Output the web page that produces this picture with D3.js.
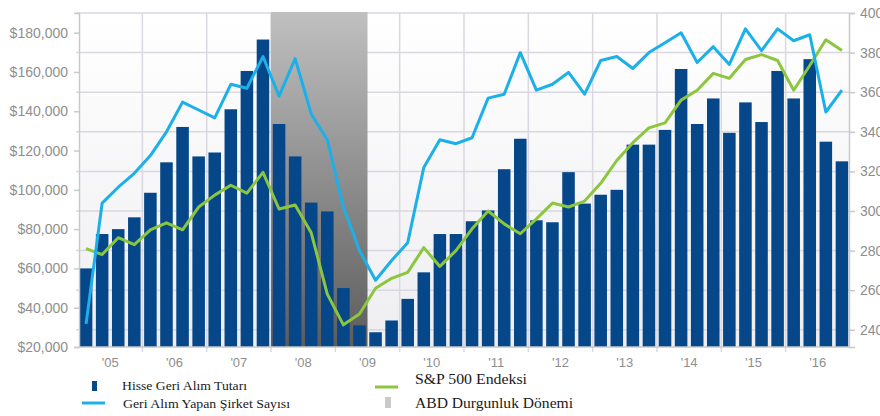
<!DOCTYPE html>
<html>
<head>
<meta charset="utf-8">
<script src="https://cdn.jsdelivr.net/npm/d3@7"></script>
<style>
  body { margin: 0; background: #fff; }
  .tick-label { font-family: "Liberation Sans", Arial, sans-serif; fill: #8e8e8e; }
  .legend-text { font-family: "Liberation Serif", "Times New Roman", serif; fill: #1a1a1a; }
</style>
</head>
<body>
<svg id="chart"></svg>
<script>
// years and quarters
const years = ['05', '06', '07', '08', '09', '10', '11', '12', '13', '14', '15', '16'];
const quarters = years.flatMap(y => ['Q1', 'Q2', 'Q3', 'Q4'].map(q => y + q));

// Hisse Geri Alım Tutarı (left axis, $)
const buybacks = [60000, 77500, 80000, 86000, 98500, 114000, 132000, 117000, 119000, 141000, 160500, 176500,
  133500, 117000, 93500, 89000, 50000, 31000, 27500, 33500, 44500, 58000, 77500, 77500,
  84000, 89500, 110500, 126000, 84500, 83500, 109000, 93000, 97500, 100000, 123000, 123000,
  130500, 161500, 133500, 146500, 129000, 144500, 134500, 160500, 146500, 166500, 124500, 114500];

// Geri Alım Yapan Şirket Sayısı (right axis)
const companies = [243, 304, 312, 319, 328, 340, 355, 351, 347, 364, 362, 378,
  358, 377, 349, 336, 302, 280, 265, 275, 284, 322, 336, 334,
  337, 357, 359, 380, 361, 364, 370, 359, 376, 378, 372, 380,
  385, 390, 375, 383, 374, 392, 381, 392, 386, 389, 350, 361];

// S&P 500 Endeksi (drawn on right axis)
const sp500 = [281, 278, 286.5, 283, 290.5, 294, 290.5, 302, 308, 313, 309, 319.5,
  301, 303, 289, 258, 242.5, 248, 261, 266, 269, 281.5, 272, 280,
  291, 300, 293.5, 288.5, 296, 304, 302, 305, 314, 325.5, 334.5, 342,
  344.5, 356, 361, 369.5, 367, 376.5, 379, 376, 361, 373.5, 386.5, 381];

// ABD Durgunluk Dönemi (first and last quarter)
const recession = ['08Q1', '09Q2'];

const leftTicks = [20000, 40000, 60000, 80000, 100000, 120000, 140000, 160000, 180000];
const rightTicks = [240, 260, 280, 300, 320, 340, 360, 380, 400];

const legendLabels = ['Hisse Geri Alım Tutarı', 'Geri Alım Yapan Şirket Sayısı', 'S&P 500 Endeksi', 'ABD Durgunluk Dönemi'];

const width = 880, height = 416;
const plot = {left: 79, right: 849, top: 13, bottom: 347};

const svg = d3.select("#chart")
  .attr("width", width)
  .attr("height", height);

const defs = svg.append("defs");
const bgGrad = defs.append("linearGradient").attr("id", "bg").attr("x1", 0).attr("y1", 0).attr("x2", 0).attr("y2", 1);
bgGrad.append("stop").attr("offset", "0%").attr("stop-color", "#ffffff");
bgGrad.append("stop").attr("offset", "100%").attr("stop-color", "#eeeef1");
const shadeGrad = defs.append("linearGradient").attr("id", "shade").attr("x1", 0).attr("y1", 0).attr("x2", 0).attr("y2", 1);
shadeGrad.append("stop").attr("offset", "0%").attr("stop-color", "#c0c0c0");
shadeGrad.append("stop").attr("offset", "100%").attr("stop-color", "#5c5c5c");

const x = d3.scaleBand()
  .domain(quarters)
  .range([plot.left, plot.right])
  .paddingInner(0.22)
  .paddingOuter(0.05);

const yLeft = d3.scaleLinear().domain([20000, 190000]).range([plot.bottom, plot.top]);
const yRight = d3.scaleLinear().domain([231.3, 400]).range([plot.bottom, plot.top]);

const gap = x.step() * x.paddingInner() / 2;
const yearStart = y => x(y + 'Q1') - gap;

// background
svg.append("rect")
  .attr("x", plot.left).attr("y", plot.top)
  .attr("width", plot.right - plot.left).attr("height", plot.bottom - plot.top)
  .attr("fill", "url(#bg)");

// grid
svg.append("g")
  .selectAll("line")
  .data(rightTicks)
  .enter().append("line")
  .attr("x1", plot.left - 3).attr("x2", plot.right)
  .attr("y1", d => yRight(d)).attr("y2", d => yRight(d))
  .attr("stroke", "#d9d7df").attr("stroke-width", 1.5);

svg.append("g")
  .selectAll("line")
  .data(years.slice(1))
  .enter().append("line")
  .attr("x1", d => yearStart(d)).attr("x2", d => yearStart(d))
  .attr("y1", plot.top).attr("y2", plot.bottom + 5)
  .attr("stroke", "#d9d7df").attr("stroke-width", 1.5);

// recession shading (covers the grid)
const recX0 = x(recession[0]) - gap;
const recX1 = x(recession[1]) + x.bandwidth() + gap;
svg.append("rect")
  .attr("x", recX0).attr("y", plot.top - 1)
  .attr("width", recX1 - recX0).attr("height", plot.bottom - plot.top + 1)
  .attr("fill", "url(#shade)");

// bars
svg.append("g")
  .selectAll("rect")
  .data(buybacks)
  .enter().append("rect")
  .attr("x", (d, i) => x(quarters[i]))
  .attr("y", d => yLeft(d))
  .attr("width", x.bandwidth())
  .attr("height", d => plot.bottom - yLeft(d))
  .attr("fill", "#06478a");

// axes
const leftAxis = d3.axisLeft(yLeft).tickValues(leftTicks).tickSize(5).tickPadding(6)
  .tickFormat(d => "$" + d3.format(",")(d));
const gL = svg.append("g").attr("transform", `translate(${plot.left},0)`).call(leftAxis);
gL.select(".domain").attr("stroke", "#c9c9cc").attr("stroke-width", 1.5);
gL.selectAll(".tick line").attr("stroke", "#c9c9cc").attr("stroke-width", 1.5);
gL.selectAll(".tick text").attr("class", "tick-label").attr("font-size", 14);

const rightAxis = d3.axisRight(yRight).tickValues(rightTicks).tickSize(6).tickPadding(5);
const gR = svg.append("g").attr("transform", `translate(${plot.right},0)`).call(rightAxis);
gR.select(".domain").attr("stroke", "#c9c9cc").attr("stroke-width", 1.5);
gR.selectAll(".tick line").attr("stroke", "#c9c9cc").attr("stroke-width", 1.5);
gR.selectAll(".tick text").attr("class", "tick-label").attr("font-size", 14);

svg.append("line")
  .attr("x1", plot.left).attr("x2", plot.right)
  .attr("y1", plot.bottom).attr("y2", plot.bottom)
  .attr("stroke", "#c9c9cc").attr("stroke-width", 1.5);

svg.append("g")
  .selectAll("text")
  .data(years)
  .enter().append("text")
  .attr("class", "tick-label")
  .attr("font-size", 13)
  .attr("x", d => yearStart(d) + 2 * x.step())
  .attr("y", 367)
  .attr("text-anchor", "middle")
  .text(d => "'" + d);

// lines
const cx = i => x(quarters[i]) + x.bandwidth() / 2;

svg.append("path")
  .datum(sp500)
  .attr("fill", "none")
  .attr("stroke", "#8cc63e")
  .attr("stroke-width", 3)
  .attr("stroke-linejoin", "round")
  .attr("d", d3.line().x((d, i) => cx(i)).y(d => yRight(d)));

svg.append("path")
  .datum(companies)
  .attr("fill", "none")
  .attr("stroke", "#1cb0ea")
  .attr("stroke-width", 3)
  .attr("stroke-linejoin", "round")
  .attr("d", d3.line().x((d, i) => cx(i)).y(d => yRight(d)));

// legend
const leg = svg.append("g");
leg.append("rect").attr("x", 92).attr("y", 381).attr("width", 5).attr("height", 10).attr("fill", "#06478a");
leg.append("line").attr("x1", 82).attr("x2", 105).attr("y1", 403).attr("y2", 403)
  .attr("stroke", "#1cb0ea").attr("stroke-width", 3);
leg.append("line").attr("x1", 375).attr("x2", 398).attr("y1", 387).attr("y2", 387)
  .attr("stroke", "#8cc63e").attr("stroke-width", 3);
leg.append("rect").attr("x", 385).attr("y", 397).attr("width", 6).attr("height", 11).attr("fill", "#cacaca");

const legPos = [
  {x: 122, y: 390, size: 13, w: 125},
  {x: 123, y: 408, size: 13, w: 167},
  {x: 415, y: 384, size: 14, w: 112},
  {x: 415, y: 408, size: 15, w: 158}
];
leg.selectAll("text")
  .data(legendLabels)
  .enter().append("text")
  .attr("class", "legend-text")
  .attr("x", (d, i) => legPos[i].x)
  .attr("y", (d, i) => legPos[i].y)
  .attr("font-size", (d, i) => legPos[i].size)
  .attr("textLength", (d, i) => legPos[i].w)
  .attr("lengthAdjust", "spacingAndGlyphs")
  .text(d => d);
</script>
</body>
</html>
